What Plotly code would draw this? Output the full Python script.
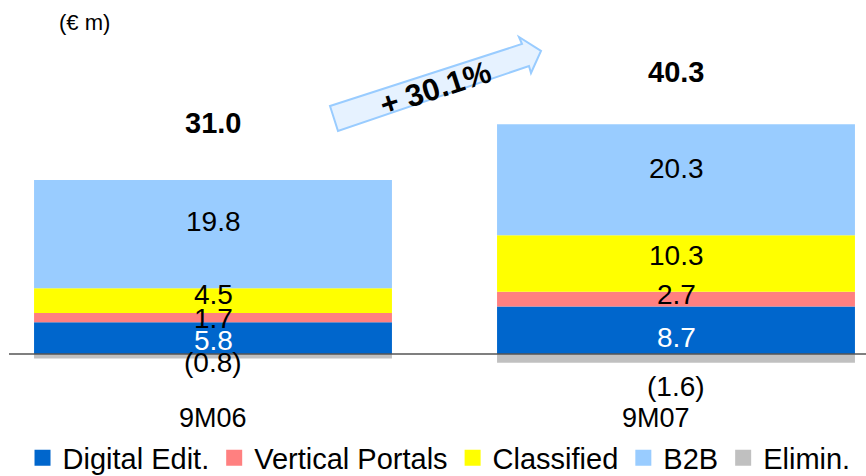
import plotly.graph_objects as go

# Revenue breakdown by business line (EUR m)
periods = ["9M06", "9M07"]
series_names = ["Digital Edit.", "Vertical Portals", "Classified", "B2B", "Elimin."]
digital_edit = [5.8, 8.7]
vertical_portals = [1.7, 2.7]
classified = [4.5, 10.3]
b2b = [19.8, 20.3]
elimin = [-0.8, -1.6]
totals = [31.0, 40.3]
growth_label = "+ 30.1%"
unit_label = "(€ m)"

colors = ["#0066CC", "#FF8080", "#FFFF00", "#99CCFF", "#C0C0C0"]
label_colors = ["white", "black", "black", "black", "black"]
FONT = "Liberation Sans, Arial, sans-serif"

W, H = 866, 476
PX_PER_UNIT = 5.47
BASE_PX = 354
y_top = BASE_PX / PX_PER_UNIT
y_bot = -(H - BASE_PX) / PX_PER_UNIT
x0 = -213 / 463
x1 = x0 + W / 463


def px(xp, yp):
    return xp / W, 1 - yp / H


series = [digital_edit, vertical_portals, classified, b2b, elimin]
xs = list(range(len(periods)))

fig = go.Figure()
for name, vals, col in zip(series_names, series, colors):
    fig.add_trace(go.Bar(x=xs, y=vals, name=name, marker=dict(color=col, line=dict(width=0)),
                         width=0.773, showlegend=False, hoverinfo="skip"))
    # larger square swatch for the legend
    fig.add_trace(go.Scatter(x=[None], y=[None], mode="markers", name=name,
                             marker=dict(symbol="square", size=16, color=col)))

# segment value labels, vertical nudges in pixels
label_shift = [[-2, -7], [-1, 5], [6, 8], [13, 11], [-6, -28]]
annotations = []
for s_idx, (vals, tcol) in enumerate(zip(series, label_colors)):
    for i, v in enumerate(vals):
        if v >= 0:
            base = sum(series[k][i] for k in range(s_idx) if series[k][i] >= 0)
        else:
            base = sum(series[k][i] for k in range(s_idx) if series[k][i] < 0)
        txt = f"({abs(v):.1f})" if v < 0 else f"{v:.1f}"
        annotations.append(dict(x=i, y=base + v / 2, xref="x", yref="y", text=txt,
                                showarrow=False, yshift=label_shift[s_idx][i],
                                xanchor="center", yanchor="middle",
                                font=dict(family=FONT, size=28, color=tcol)))

# totals above each stack
total_shift = [57, 52]
for i, t in enumerate(totals):
    top = sum(s[i] for s in series if s[i] > 0)
    annotations.append(dict(x=i, y=top, xref="x", yref="y", text=f"<b>{t:.1f}</b>",
                            showarrow=False, yshift=total_shift[i],
                            xanchor="center", yanchor="middle",
                            font=dict(family=FONT, size=29, color="black")))

# period labels under the bars
period_xshift = [0, -20]
for i, p in enumerate(periods):
    annotations.append(dict(x=i, y=1 - 418 / H, xref="x", yref="paper", text=p,
                            showarrow=False, xshift=period_xshift[i],
                            xanchor="center", yanchor="middle",
                            font=dict(family=FONT, size=27, color="black")))

# unit caption
ux, uy = px(57, 22)
annotations.append(dict(x=ux, y=uy, xref="paper", yref="paper", text=unit_label,
                        showarrow=False, xanchor="left", yanchor="middle",
                        font=dict(family=FONT, size=22, color="black")))

# growth arrow caption
gx, gy = px(435, 88)
annotations.append(dict(x=gx, y=gy, xref="paper", yref="paper", text=f"<b>{growth_label}</b>",
                        showarrow=False, textangle=-18, xanchor="center", yanchor="middle",
                        font=dict(family=FONT, size=31, color="black")))

arrow_pts = [(330, 106), (522, 44), (519, 37), (541, 51), (531, 73), (529, 66), (338, 131)]
path = ""
for k, (a, b) in enumerate(arrow_pts):
    xp, yp = px(a, b)
    path += ("M" if k == 0 else "L") + f"{xp:.5f},{yp:.5f} "
path += "Z"

shapes = [
    dict(type="path", xref="paper", yref="paper", path=path,
         fillcolor="#E6F2FF", line=dict(color="#99CCFF", width=2), layer="below"),
    dict(type="line", xref="paper", yref="y", x0=9 / W, x1=1, y0=0, y1=0,
         line=dict(color="#555555", width=1.5), layer="above"),
]

fig.update_layout(
    width=W, height=H,
    margin=dict(l=0, r=0, t=0, b=0, autoexpand=False),
    paper_bgcolor="white", plot_bgcolor="white",
    barmode="relative",
    xaxis=dict(range=[x0, x1], visible=False, fixedrange=True),
    yaxis=dict(range=[y_bot, y_top], visible=False, fixedrange=True),
    legend=dict(orientation="h", x=0.026, xanchor="left", y=1 - 458 / H, yanchor="middle",
                bgcolor="rgba(0,0,0,0)", itemsizing="trace",
                font=dict(family=FONT, size=29, color="black"),
                traceorder="normal", itemwidth=30, tracegroupgap=0),
    annotations=annotations,
    shapes=shapes,
    showlegend=True,
)

fig.write_html("out.html")
